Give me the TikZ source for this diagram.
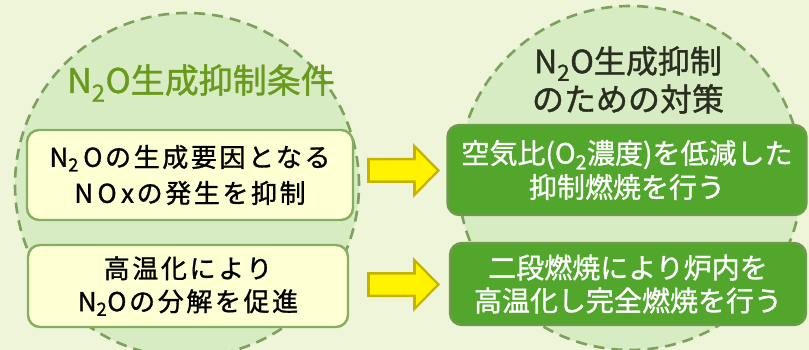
\documentclass[tikz,border=0pt]{standalone}
\usepackage{fontspec}
\setmainfont[FakeBold=1.1]{Noto Sans CJK JP}
\newfontfamily\spacedjp[FakeBold=1.1,LetterSpace=10]{Noto Sans CJK JP}
\definecolor{bgc}{HTML}{EFF5D9}
\definecolor{circfill}{HTML}{D7ECC2}
\definecolor{circline}{HTML}{7DA05C}
\definecolor{lboxfill}{HTML}{FFFFD4}
\definecolor{lboxline}{HTML}{86AE63}
\definecolor{rboxfill}{HTML}{52A62B}
\definecolor{rboxline}{HTML}{6E9A4C}
\definecolor{ltitle}{HTML}{6A9A1C}
\definecolor{rtitle}{HTML}{2A2E20}
\definecolor{arrdark}{HTML}{C4B400}
\definecolor{arrlight}{HTML}{FFF300}
\newcommand\subtwo{\textsubscript{2}}
\newcommand\blockarrow[1]{%
  \fill[arrdark] (#1) ++(0,-12.5) -- ++(46,0) -- ++(0,-15) -- ++(27,27.5) -- ++(-27,27.5) -- ++(0,-15) -- ++(-46,0) -- cycle;
  \fill[arrlight] (#1) ++(3,-10) -- ++(46,0) -- ++(0,-11) -- ++(20.5,21) -- ++(-20.5,21) -- ++(0,-11) -- ++(-46,0) -- cycle;
}
\begin{document}
\begin{tikzpicture}[x=1pt,y=-1pt,
  circ/.style={circle,draw=circline,fill=circfill,line width=2.6pt,dash pattern=on 11pt off 7pt,minimum size=344pt,inner sep=0pt},
  lbox/.style={rectangle,rounded corners=12pt,draw=lboxline,fill=lboxfill,line width=2.4pt,align=center,text=black,
    font=\spacedjp\fontsize{26}{36}\selectfont},
  rbox/.style={rectangle,rounded corners=12pt,draw=rboxline,fill=rboxfill,line width=2.4pt,align=center,text=white,
    font=\fontsize{28}{33}\selectfont},
  title/.style={align=center,inner sep=0pt}
]
\useasboundingbox (0,0) rectangle (809,350);
\fill[bgc] (0,0) rectangle (809,350);
\begin{scope}
\clip (0,0) rectangle (809,350);
\node[circ] (lc) at (187,185) {};
\node[circ] (rc) at (630,178) {};
\end{scope}
\node[title,text=ltitle,font=\fontsize{34}{40}\selectfont] (lt) at (201,83) {N\subtwo O生成抑制条件};
\node[title,text=rtitle,font=\fontsize{32}{38}\selectfont] (rt) at (628,80) {N\subtwo O生成抑制\\のための対策};
\node[lbox,minimum width=326pt,minimum height=90pt] (lb1) at (190,175) {N\subtwo\,Oの生成要因となる\\N\,O\,xの発生を抑制};
\node[lbox,minimum width=320pt,minimum height=82pt,font=\spacedjp\fontsize{26}{33}\selectfont] (lb2) at (188,286) {高温化により\\N\subtwo Oの分解を促進};
\node[rbox,minimum width=359pt,minimum height=90pt,font=\fontsize{28}{34}\selectfont] (rb1) at (627,170) {空気比(O\subtwo 濃度)を低減した\\抑制燃焼を行う};
\node[rbox,minimum width=356pt,minimum height=82pt] (rb2) at (628,284) {二段燃焼により炉内を\\高温化し完全燃焼を行う};
\coordinate (a1) at (367,170.5);
\coordinate (a2) at (367,284.5);
\blockarrow{a1}
\blockarrow{a2}
\end{tikzpicture}
\end{document}
